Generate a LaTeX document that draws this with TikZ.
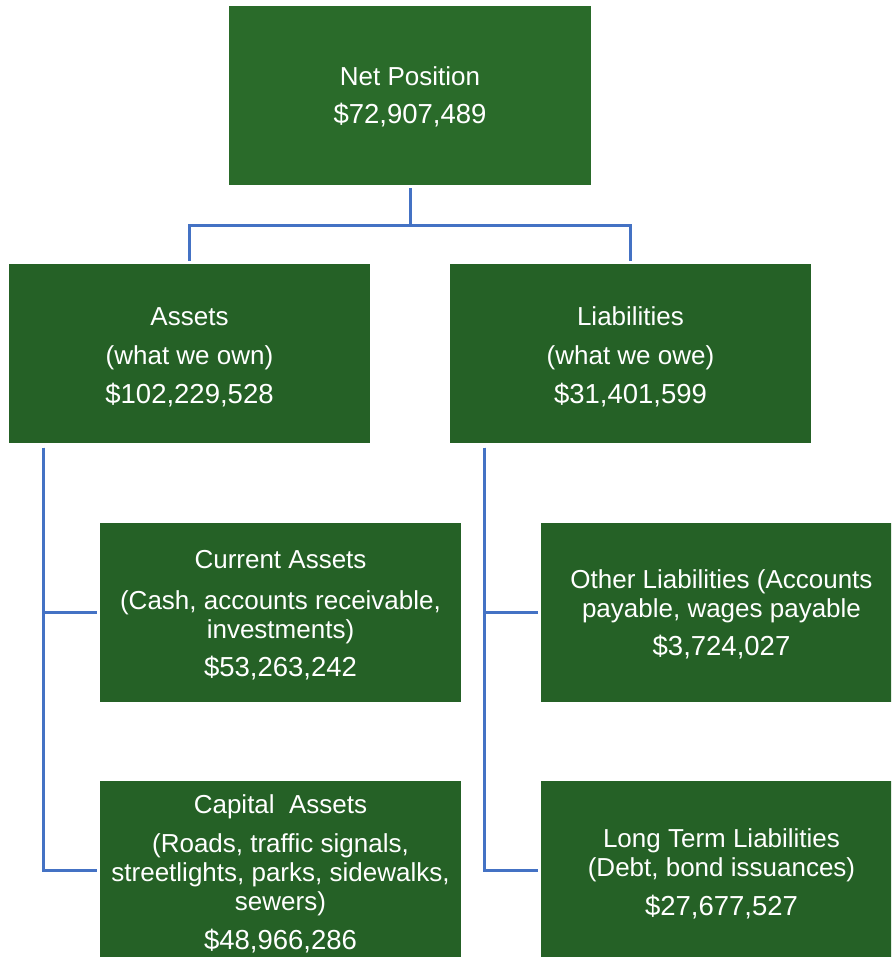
\documentclass[tikz,border=0pt]{standalone}
\usepackage{fontspec}
\setmainfont{Liberation Sans}
\usetikzlibrary{calc}
\definecolor{topgreen}{HTML}{2A6B2A}
\definecolor{boxgreen}{HTML}{256126}
\definecolor{linkblue}{HTML}{4472C4}
\newcommand{\amt}[1]{{\fontsize{27.5}{29}\selectfont #1}}
\newcommand{\tstrut}[1]{\rule{0pt}{#1}}
\begin{document}
\begin{tikzpicture}[x=1pt,y=1pt,
  box/.style={fill=boxgreen,draw=none,text=white,align=center,inner sep=0pt,
    minimum width=361pt,minimum height=179pt,
    font=\fontsize{26}{29}\selectfont},
  link/.style={draw=linkblue,line width=3pt}]
\useasboundingbox (0,0) rectangle (891,957);
\clip (0,0) rectangle (891,957);
\node[box,fill=topgreen,minimum width=362pt] (net) at (410,861.5) {\tstrut{22pt}Net Position\\[9pt]\amt{\$72,907,489}};
\node[box] (assets) at (189.5,603) {\tstrut{24pt}Assets\\[10pt](what we own)\\[10pt]\amt{\$102,229,528}};
\node[box] (liab) at (630.5,603) {\tstrut{24pt}Liabilities\\[10pt](what we owe)\\[10pt]\amt{\$31,401,599}};
\node[box] (current) at (280.5,344.5) {\tstrut{24pt}Current Assets\\[12pt](Cash, accounts receivable,\\investments)\\[9pt]\amt{\$53,263,242}};
\node[box] (other) at (721.5,344.5) {\tstrut{23pt}Other Liabilities (Accounts\\payable, wages payable\\[9pt]\amt{\$3,724,027}};
\node[box] (capital) at (280.5,86) {\tstrut{25pt}Capital\ \ Assets\\[10pt](Roads, traffic signals,\\streetlights, parks, sidewalks,\\sewers)\\[10pt]\amt{\$48,966,286}};
\node[box] (longterm) at (721.5,86) {\tstrut{24pt}Long Term Liabilities\\(Debt, bond issuances)\\[10pt]\amt{\$27,677,527}};
% top connectors
\coordinate (split) at ($(net.south)+(0,-40)$);
\draw[link] ($(net.south)+(0,-3)$) -- (split);
\draw[link] (split) -| ($(assets.north)+(0,3)$);
\draw[link] (split) -| ($(liab.north)+(0,3)$);
% asset connectors
\coordinate (abus) at ($(assets.south west)+(35,-4)$);
\draw[link] (abus) |- ($(current.west)+(-3,0)$);
\draw[link] (abus) |- ($(capital.west)+(-3,0)$);
% liability connectors
\coordinate (lbus) at ($(liab.south west)+(35,-4)$);
\draw[link] (lbus) |- ($(other.west)+(-3,0)$);
\draw[link] (lbus) |- ($(longterm.west)+(-3,0)$);
\end{tikzpicture}
\end{document}
